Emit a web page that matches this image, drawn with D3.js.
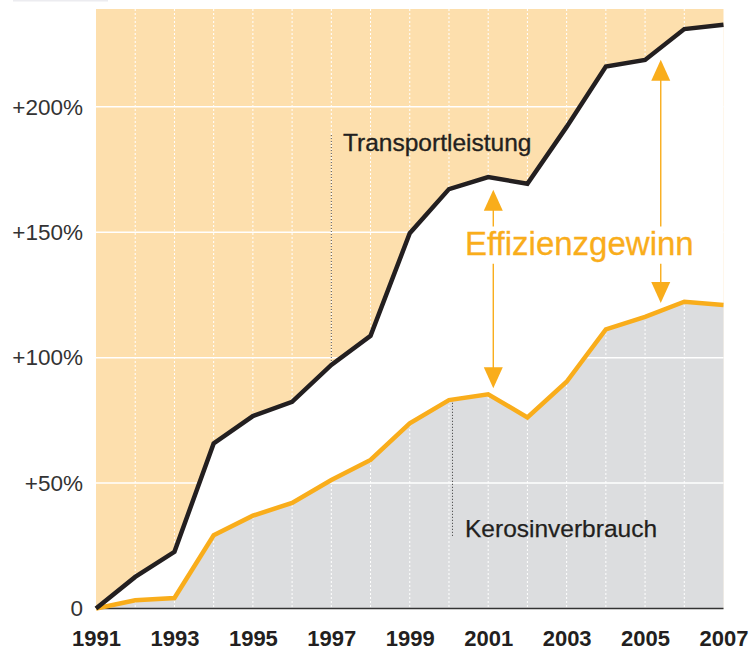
<!DOCTYPE html>
<html>
<head>
<meta charset="utf-8">
<script src="https://cdn.jsdelivr.net/npm/d3@7/dist/d3.min.js"></script>
<style>
  body { margin: 0; background: #fff; }
  svg { display: block; font-family: "Liberation Sans", Arial, sans-serif; }
</style>
</head>
<body>
<svg></svg>
<script>
var width = 750;
var height = 652;
var margin = {top: 9, right: 26, bottom: 43, left: 96};

// Jahre und Werte (Veränderung gegenüber 1991 in %)
var years = [1991, 1992, 1993, 1994, 1995, 1996, 1997, 1998, 1999, 2000, 2001, 2002, 2003, 2004, 2005, 2006, 2007];
var transport = [0, 12.6, 22.6, 65.8, 76.7, 82.4, 97.1, 108.7, 149.6, 167.2, 172, 169.3, 192, 216.1, 218.7, 231, 232.7];
var kerosin = [0, 3.3, 4.2, 29.2, 37, 42.1, 51.2, 59.2, 73.8, 83.1, 85.4, 76.2, 90.4, 111.3, 116.3, 122.3, 121];

var yTicks = [0, 50, 100, 150, 200];
var yTickLabels = ["0", "+50%", "+100%", "+150%", "+200%"];
var xTicks = [1991, 1993, 1995, 1997, 1999, 2001, 2003, 2005, 2007];

// Pfeile "Effizienzgewinn": Jahr, Spitze oben, Spitze unten
var gainArrows = [
  {year: 2001.13, top: 166.9, bottom: 87.8},
  {year: 2005.4, top: 218.8, bottom: 121.8}
];
var gapTop = 152.3, gapBottom = 137.4;

var data = years.map(function(y, i) {
  return {year: y, transport: transport[i], kerosin: kerosin[i]};
});

var svg = d3.select("svg")
  .attr("width", width)
  .attr("height", height);

var xScale = d3.scaleLinear()
  .domain([1991, 2007])
  .range([margin.left, width - margin.right - 0.5]);
var yScale = d3.scaleLinear()
  .domain([0, 239])
  .range([height - margin.bottom - 0.5, margin.top]);

var orange = "#f9ad1b";

// faint remnant at top left
svg.append("rect")
  .attr("x", 13).attr("y", 0).attr("width", 95).attr("height", 1.5)
  .attr("fill", "#ececf0");

// background (above transport line)
svg.append("rect")
  .attr("x", xScale(1991))
  .attr("y", yScale(239))
  .attr("width", xScale(2007) - xScale(1991))
  .attr("height", yScale(0) - yScale(239))
  .attr("fill", "#fddfad");

var areaT = d3.area()
  .x(function(d) { return xScale(d.year); })
  .y0(yScale(0))
  .y1(function(d) { return yScale(d.transport); });
var areaK = d3.area()
  .x(function(d) { return xScale(d.year); })
  .y0(yScale(0))
  .y1(function(d) { return yScale(d.kerosin); });

svg.append("path").attr("d", areaT(data)).attr("fill", "#fff");
svg.append("path").attr("d", areaK(data)).attr("fill", "#dcdddf");

// grid
svg.append("g")
  .selectAll("line")
  .data(years.slice(1, -1))
  .enter().append("line")
  .attr("x1", d => xScale(d)).attr("x2", d => xScale(d))
  .attr("y1", yScale(239)).attr("y2", yScale(0))
  .attr("stroke", "#fff")
  .attr("stroke-width", 1)
  .attr("stroke-dasharray", "2,2");

svg.append("g")
  .selectAll("line")
  .data(yTicks.slice(1))
  .enter().append("line")
  .attr("x1", xScale(1991)).attr("x2", xScale(2007))
  .attr("y1", d => yScale(d)).attr("y2", d => yScale(d))
  .attr("stroke", "#fff")
  .attr("stroke-width", 1.5);

// leader lines for labels
svg.append("line")
  .attr("x1", xScale(1997)).attr("x2", xScale(1997))
  .attr("y1", 135).attr("y2", yScale(97.1))
  .attr("stroke", "#555").attr("stroke-width", 1).attr("stroke-dasharray", "1,2");
svg.append("line")
  .attr("x1", xScale(2000.09)).attr("x2", xScale(2000.09))
  .attr("y1", yScale(83.2)).attr("y2", 537)
  .attr("stroke", "#333").attr("stroke-width", 1).attr("stroke-dasharray", "1,2");

// baseline
svg.append("line")
  .attr("x1", xScale(1991)).attr("x2", xScale(2007))
  .attr("y1", yScale(0)).attr("y2", yScale(0))
  .attr("stroke", "#333").attr("stroke-width", 1.5);

// lines
var lineT = d3.line()
  .x(d => xScale(d.year))
  .y(d => yScale(d.transport));
var lineK = d3.line()
  .x(d => xScale(d.year))
  .y(d => yScale(d.kerosin));

svg.append("path")
  .attr("d", lineK(data))
  .attr("fill", "none")
  .attr("stroke", orange)
  .attr("stroke-width", 4.5);
svg.append("path")
  .attr("d", lineT(data))
  .attr("fill", "none")
  .attr("stroke", "#231f20")
  .attr("stroke-width", 4.5);

// arrows
var arrows = svg.append("g");
gainArrows.forEach(function(a) {
  var x = xScale(a.year);
  var head = 21, hw = 9.5;
  arrows.append("line")
    .attr("x1", x).attr("x2", x)
    .attr("y1", yScale(a.top) + head - 1).attr("y2", yScale(gapTop))
    .attr("stroke", orange).attr("stroke-width", 1.4);
  arrows.append("line")
    .attr("x1", x).attr("x2", x)
    .attr("y1", yScale(gapBottom)).attr("y2", yScale(a.bottom) - head + 1)
    .attr("stroke", orange).attr("stroke-width", 1.4);
  var yt = yScale(a.top), yb = yScale(a.bottom);
  arrows.append("path")
    .attr("d", "M" + x + "," + yt + "L" + (x + hw) + "," + (yt + head) + "L" + (x - hw) + "," + (yt + head) + "Z")
    .attr("fill", orange);
  arrows.append("path")
    .attr("d", "M" + x + "," + yb + "L" + (x + hw) + "," + (yb - head) + "L" + (x - hw) + "," + (yb - head) + "Z")
    .attr("fill", orange);
});

// labels
svg.append("text")
  .attr("x", 343).attr("y", 151)
  .attr("font-size", 24.5)
  .attr("fill", "#231f20")
  .attr("stroke", "#231f20").attr("stroke-width", 0.35)
  .text("Transportleistung");
svg.append("text")
  .attr("x", 465).attr("y", 537)
  .attr("font-size", 24.5)
  .attr("fill", "#231f20")
  .attr("stroke", "#231f20").attr("stroke-width", 0.25)
  .text("Kerosinverbrauch");
svg.append("text")
  .attr("x", 465).attr("y", 255)
  .attr("font-size", 33)
  .attr("fill", orange)
  .attr("stroke", orange).attr("stroke-width", 0.3)
  .text("Effizienzgewinn");

// axes
var yAxis = d3.axisLeft(yScale)
  .tickValues(yTicks)
  .tickFormat((d, i) => yTickLabels[i])
  .tickSize(0)
  .tickPadding(13);
var gy = svg.append("g")
  .attr("transform", "translate(" + [margin.left, 0] + ")")
  .call(yAxis);
gy.select(".domain").remove();
gy.selectAll("text")
  .attr("font-size", 22.5)
  .attr("font-family", "Liberation Sans, Arial, sans-serif")
  .attr("fill", "#333");

var xAxis = d3.axisBottom(xScale)
  .tickValues(xTicks)
  .tickFormat(d3.format("d"))
  .tickSize(0)
  .tickPadding(22);
var gx = svg.append("g")
  .attr("transform", "translate(" + [0, yScale(0)] + ")")
  .call(xAxis);
gx.select(".domain").remove();
gx.selectAll("text")
  .attr("font-size", 22)
  .attr("font-weight", "bold")
  .attr("font-family", "Liberation Sans, Arial, sans-serif")
  .attr("fill", "#231f20");
</script>
</body>
</html>
